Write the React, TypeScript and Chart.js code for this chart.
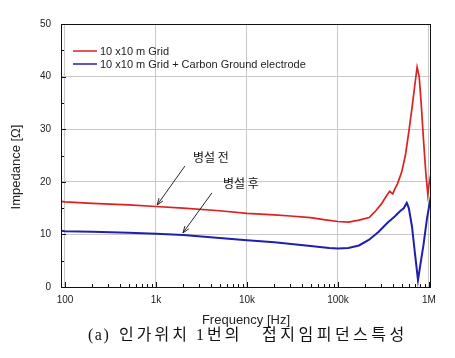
import React, { useEffect, useRef } from "react";
import { Chart, registerables } from "chart.js";

Chart.register(...registerables);

// ---- data ----
const redFreq = [90, 100, 200, 500, 1000, 2000, 5000, 10000, 20000, 30000, 50000, 70000, 100000, 130000, 170000, 220000, 260000, 300000, 340000, 370000, 400000, 420000, 450000, 500000, 550000, 600000, 650000, 700000, 740000, 780000, 820000, 870000, 920000, 970000, 1000000, 1050000];
const redImp = [16.3, 16.2, 15.9, 15.6, 15.3, 15.0, 14.5, 14.0, 13.7, 13.5, 13.2, 12.8, 12.45, 12.35, 12.7, 13.2, 14.5, 15.8, 17.3, 18.2, 17.7, 18.6, 19.6, 21.8, 25.0, 29.5, 34.0, 38.5, 41.8, 40.0, 35.0, 28.0, 22.0, 17.6, 19.5, 21.5];
const blueFreq = [90, 100, 200, 500, 1000, 2000, 5000, 10000, 20000, 50000, 80000, 100000, 130000, 170000, 220000, 280000, 350000, 420000, 480000, 530000, 570000, 600000, 650000, 700000, 757000, 800000, 870000, 950000, 1050000];
const blueImp = [10.7, 10.6, 10.5, 10.3, 10.1, 9.9, 9.3, 8.9, 8.5, 7.8, 7.4, 7.3, 7.4, 7.9, 9.0, 10.5, 12.2, 13.4, 14.4, 15.0, 16.0, 15.0, 11.5, 6.5, 1.3, 4.0, 8.0, 13.0, 17.3];
const seriesNames = ["10 x10 m Grid", "10 x10 m Grid + Carbon Ground electrode"];
const xTickValues = [100, 1000, 10000, 100000, 1000000];
const xTickLabels = ["100", "1k", "10k", "100k", "1M"];
const yTickValues = [0, 10, 20, 30, 40, 50];
const annotationLabels = ["병설 전", "병설 후"];
const annotationText = [[2550, 24.7], [5450, 19.6]];
const arrowTail = [[2080, 23.0], [4120, 17.9]];
const arrowTip = [[1030, 15.6], [1980, 10.3]];
const xTitle = "Frequency [Hz]";
const yTitle = "Impedance [Ω]";
const caption = "(a) 인가위치 1번의 접지임피던스특성";

const RED = "#dd2020";
const BLUE = "#1f1fb0";
const SANS = "'Liberation Sans', Arial, sans-serif";

// caption word start positions (px) and letter gaps
const capStarts = [88, 119, 196, 262];
const capGaps = [1.5, 3, 3, 3.5];

const decorPlugin = {
  id: "decor",
  afterDatasetsDraw(chart: any) {
    const { ctx, chartArea: a, scales } = chart;
    const xs = scales.x;
    const ys = scales.y;
    ctx.save();
    // box
    ctx.strokeStyle = "#111";
    ctx.lineWidth = 1;
    ctx.strokeRect(a.left + 0.5, a.top + 0.5, a.right - a.left - 1, a.bottom - a.top);
    // x ticks inward
    ctx.beginPath();
    for (let d = 100; d <= 1000000; d *= 10) {
      const px = Math.round(xs.getPixelForValue(d)) + 0.5;
      ctx.moveTo(px, a.bottom);
      ctx.lineTo(px, a.bottom - 5);
      if (d < 1000000) {
        for (let k = 2; k <= 9; k++) {
          const mx = Math.round(xs.getPixelForValue(d * k)) + 0.5;
          ctx.moveTo(mx, a.bottom);
          ctx.lineTo(mx, a.bottom - 3);
        }
      }
    }
    // y ticks inward
    for (let v = 0; v <= 50; v += 5) {
      const py = Math.round(ys.getPixelForValue(v)) + 0.5;
      ctx.moveTo(a.left, py);
      ctx.lineTo(a.left + (v % 10 === 0 ? 5 : 3), py);
    }
    ctx.stroke();

    // legend
    const lx = a.left + 12;
    const ly = [51, 64];
    const lc = [RED, BLUE];
    ctx.font = `11px ${SANS}`;
    ctx.textBaseline = "middle";
    ctx.textAlign = "left";
    for (let i = 0; i < 2; i++) {
      ctx.strokeStyle = lc[i];
      ctx.lineWidth = 1.5;
      ctx.beginPath();
      ctx.moveTo(lx, ly[i]);
      ctx.lineTo(lx + 24, ly[i]);
      ctx.stroke();
      ctx.fillStyle = "#222";
      ctx.fillText(seriesNames[i], lx + 27, ly[i] + 0.5);
    }

    // annotations
    ctx.font = `12px 'Noto Sans CJK KR', sans-serif`;
    ctx.fillStyle = "#111";
    for (let i = 0; i < annotationLabels.length; i++) {
      const tx = xs.getPixelForValue(annotationText[i][0]);
      const ty = ys.getPixelForValue(annotationText[i][1]);
      ctx.fillText(annotationLabels[i], tx, ty);
      const x0 = xs.getPixelForValue(arrowTail[i][0]);
      const y0 = ys.getPixelForValue(arrowTail[i][1]);
      const x1 = xs.getPixelForValue(arrowTip[i][0]);
      const y1 = ys.getPixelForValue(arrowTip[i][1]);
      ctx.strokeStyle = "#111";
      ctx.lineWidth = 0.9;
      ctx.beginPath();
      ctx.moveTo(x0, y0);
      ctx.lineTo(x1, y1);
      const ang = Math.atan2(y1 - y0, x1 - x0);
      const h = 7;
      ctx.moveTo(x1, y1);
      ctx.lineTo(x1 - h * Math.cos(ang - 0.35), y1 - h * Math.sin(ang - 0.35));
      ctx.moveTo(x1, y1);
      ctx.lineTo(x1 - h * Math.cos(ang + 0.35), y1 - h * Math.sin(ang + 0.35));
      ctx.stroke();
    }

    // axis titles
    ctx.fillStyle = "#222";
    ctx.font = `13px ${SANS}`;
    ctx.textAlign = "center";
    ctx.textBaseline = "middle";
    ctx.fillText(xTitle, 246, 320);
    ctx.save();
    ctx.translate(16, 167);
    ctx.rotate(-Math.PI / 2);
    ctx.fillText(yTitle, 0, 0);
    ctx.restore();

    // caption
    ctx.fillStyle = "#111";
    ctx.font = `16px 'Liberation Serif', 'Noto Sans CJK KR', serif`;
    ctx.textAlign = "left";
    caption.split(" ").forEach((w, i) => {
      let x = capStarts[i];
      Array.from(w).forEach((c) => {
        ctx.fillText(c, x, 336);
        x += ctx.measureText(c).width + capGaps[i];
      });
    });
    ctx.restore();
  },
};

export default function App() {
  const ref = useRef<HTMLCanvasElement>(null);
  useEffect(() => {
    if (!ref.current) return;
    const chart = new Chart(ref.current, {
      type: "line",
      data: {
        datasets: [
          {
            label: seriesNames[0],
            data: redFreq.map((f, i) => ({ x: f, y: redImp[i] })),
            borderColor: RED,
            borderWidth: 1.7,
            pointRadius: 0,
            tension: 0,
          },
          {
            label: seriesNames[1],
            data: blueFreq.map((f, i) => ({ x: f, y: blueImp[i] })),
            borderColor: BLUE,
            borderWidth: 2,
            pointRadius: 0,
            tension: 0,
          },
        ],
      },
      options: {
        responsive: false,
        animation: false,
        layout: { padding: { top: 24, right: 24, left: 0, bottom: 0 } },
        plugins: { legend: { display: false }, tooltip: { enabled: false } },
        scales: {
          x: {
            type: "logarithmic",
            min: 90.4,
            max: 1052000,
            afterBuildTicks: (s: any) => {
              s.ticks = xTickValues.map((v) => ({ value: v }));
            },
            afterFit: (s: any) => {
              s.height = 358 - 287;
            },
            ticks: {
              autoSkip: false,
              maxRotation: 0,
              padding: 7,
              color: "#222",
              font: { family: SANS, size: 10 },
              callback: (v: any) => {
                const i = xTickValues.indexOf(Number(v));
                return i >= 0 ? xTickLabels[i] : "";
              },
            },
            grid: { color: "#c8c8c8", lineWidth: 1, drawTicks: false },
            border: { display: false },
          },
          y: {
            min: 0,
            max: 50,
            afterBuildTicks: (s: any) => {
              s.ticks = yTickValues.map((v) => ({ value: v }));
            },
            afterFit: (s: any) => {
              s.width = 61;
            },
            ticks: {
              padding: 10,
              color: "#222",
              font: { family: SANS, size: 10 },
            },
            grid: { color: "#c8c8c8", lineWidth: 1, drawTicks: false },
            border: { display: false },
          },
        },
      },
      plugins: [decorPlugin],
    });
    return () => chart.destroy();
  }, []);
  return (
    <div style={{ position: "absolute", left: 0, top: 0, width: 455, height: 358, background: "#fff" }}>
      <canvas ref={ref} width={455} height={358} style={{ display: "block" }} />
    </div>
  );
}
